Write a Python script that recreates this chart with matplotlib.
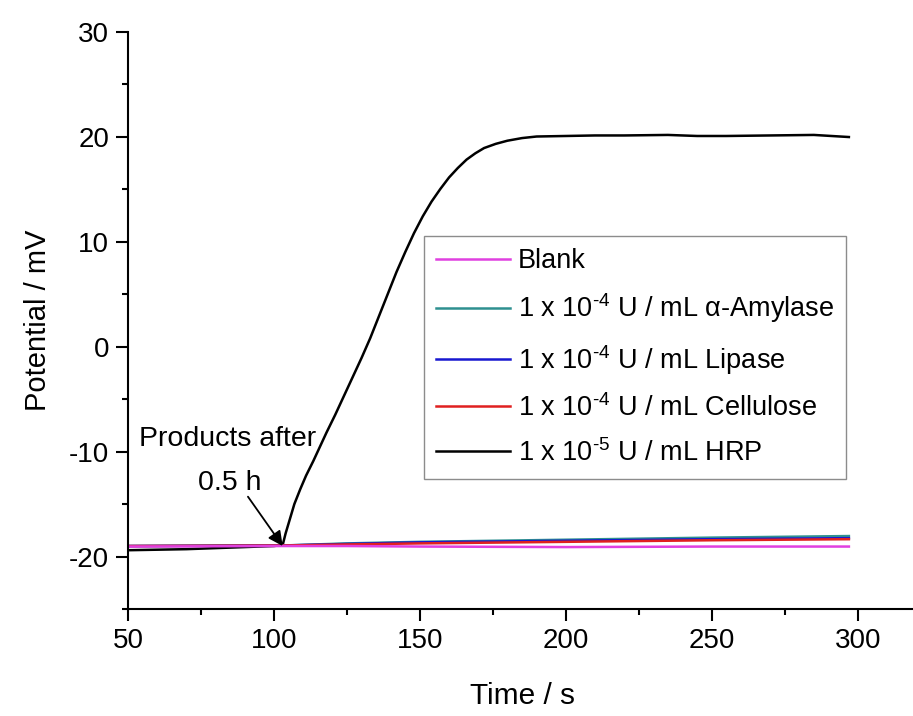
import matplotlib
matplotlib.use('Agg')
import matplotlib.pyplot as plt
from matplotlib.ticker import MultipleLocator

plt.rcParams['font.family'] = ['Liberation Sans', 'DejaVu Sans']
plt.rcParams['mathtext.fontset'] = 'custom'
plt.rcParams['mathtext.rm'] = 'Liberation Sans'
plt.rcParams['mathtext.it'] = 'Liberation Sans:italic'
plt.rcParams['axes.unicode_minus'] = False

# HRP response
hrp_t = [50, 60, 70, 80, 90, 100, 103, 104, 105.5, 107, 109, 111, 113.5, 116, 118,
         121, 124, 127, 130, 133, 136, 139, 142, 145, 148, 151, 154, 157, 160,
         163, 166, 169, 172, 176, 180, 185, 190, 200, 210, 220, 235, 245, 255,
         270, 285, 297]
hrp_v = [-19.4, -19.35, -19.3, -19.2, -19.1, -19.0, -18.9, -17.8, -16.4, -15.0, -13.6, -12.3, -10.9, -9.4, -8.2,
         -6.5, -4.7, -2.9, -1.1, 0.8, 2.9, 5.0, 7.1, 9.0, 10.8, 12.4, 13.8, 15.0, 16.1,
         17.0, 17.8, 18.4, 18.9, 19.3, 19.6, 19.85, 20.0, 20.05, 20.1, 20.1, 20.15, 20.05, 20.05,
         20.1, 20.15, 19.95]

# other enzymes
base_t = [50, 103, 125, 150, 200, 250, 297]
blank_v = [-19.05, -19.0, -19.0, -19.05, -19.1, -19.05, -19.05]
amylase_v = [-19.0, -18.95, -18.75, -18.6, -18.4, -18.2, -18.05]
lipase_v = [-19.0, -18.95, -18.8, -18.65, -18.5, -18.35, -18.25]
cellulose_v = [-19.0, -18.95, -18.85, -18.75, -18.6, -18.45, -18.35]

labels = ['Blank',
          r'1 x 10$^{\text{-}4}$ U / mL α-Amylase',
          r'1 x 10$^{\text{-}4}$ U / mL Lipase',
          r'1 x 10$^{\text{-}4}$ U / mL Cellulose',
          r'1 x 10$^{\text{-}5}$ U / mL HRP']
colors = ['#E040E0', '#2E9090', '#1818D0', '#E02020', 'black']

fig = plt.figure(figsize=(9.13, 7.16), dpi=100)
ax = fig.add_axes([0.1402, 0.1494, 0.8631, 0.8066])

l5, = ax.plot(hrp_t, hrp_v, color=colors[4], lw=1.8)
l2, = ax.plot(base_t, amylase_v, color=colors[1], lw=1.8)
l3, = ax.plot(base_t, lipase_v, color=colors[2], lw=1.8)
l4, = ax.plot(base_t, cellulose_v, color=colors[3], lw=1.8)
l1, = ax.plot(base_t, blank_v, color=colors[0], lw=1.8)

ax.set_xlim(50, 320)
ax.set_ylim(-25, 30)
ax.xaxis.set_major_locator(MultipleLocator(50))
ax.xaxis.set_minor_locator(MultipleLocator(25))
ax.yaxis.set_major_locator(MultipleLocator(10))
ax.yaxis.set_minor_locator(MultipleLocator(5))

for s in ['top', 'right']:
    ax.spines[s].set_visible(False)
for s in ['left', 'bottom']:
    ax.spines[s].set_linewidth(1.5)
ax.tick_params(which='major', direction='out', length=8.5, width=1.5, labelsize=20, pad=5)
ax.tick_params(which='minor', direction='out', length=4.5, width=1.5)

ax.set_xlabel('Time / s', fontsize=21.5, labelpad=20)
ax.set_ylabel('Potential / mV', fontsize=21, labelpad=12)

ax.text(84, -8.8, 'Products after', fontsize=20.5, ha='center', va='center')
ax.text(85, -13.0, '0.5 h', fontsize=20.5, ha='center', va='center')
ax.annotate('', xy=(103, -19.0), xytext=(91.1, -14.3),
            arrowprops=dict(arrowstyle='-|>', color='black', lw=1.3, mutation_scale=22,
                            shrinkA=0, shrinkB=0))

leg = ax.legend([l1, l2, l3, l4, l5], labels, loc='lower left',
                bbox_to_anchor=(0.376, 0.225), borderaxespad=0, fontsize=19.5,
                frameon=True, fancybox=False, edgecolor='#707070', handlelength=2.7,
                handletextpad=0.3, labelspacing=0.64, borderpad=0.45)
leg.get_frame().set_linewidth(1.0)

fig.savefig('out.png', dpi=100)
